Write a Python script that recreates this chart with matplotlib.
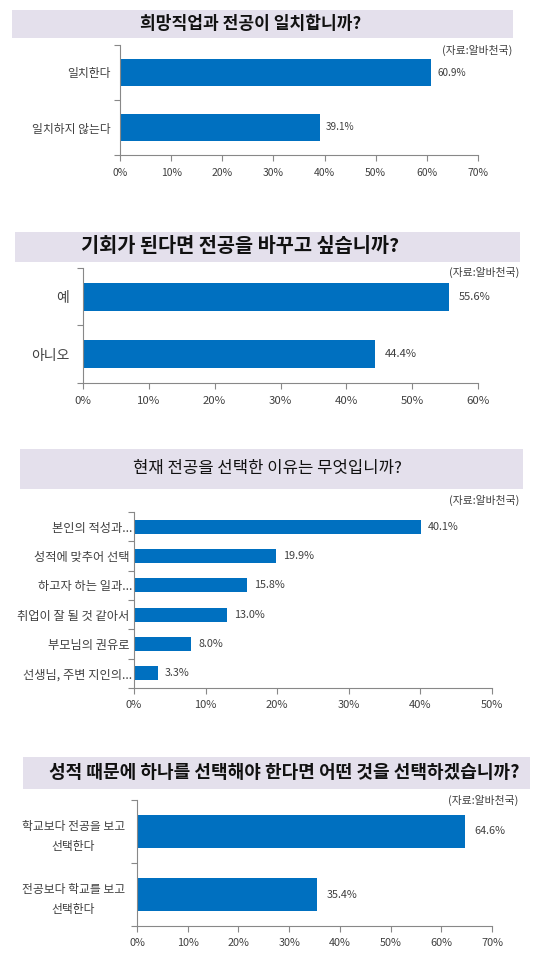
import numpy as np
import matplotlib
matplotlib.use("Agg")
import matplotlib.pyplot as plt
from matplotlib.patches import Rectangle

plt.rcParams['font.family'] = ['Noto Sans CJK KR', 'DejaVu Sans']

W, H = 539, 967

# 데이터
titulos = ['희망직업과 전공이 일치합니까?',
           '기회가 된다면 전공을 바꾸고 싶습니까?',
           '현재 전공을 선택한 이유는 무엇입니까?',
           '성적 때문에 하나를 선택해야 한다면 어떤 것을 선택하겠습니까?']

cats1 = ['일치한다', '일치하지 않는다']
vals1 = [60.9, 39.1]

cats2 = ['예', '아니오']
vals2 = [55.6, 44.4]

cats3 = ['본인의 적성과...', '성적에 맞추어 선택 ', '하고자 하는 일과...',
         '취업이 잘 될 것 같아서 ', '부모님의 권유로 ', '선생님, 주변 지인의...']
vals3 = [40.1, 19.9, 15.8, 13.0, 8.0, 3.3]

cats4 = ['학교보다 전공을 보고\n선택한다', '전공보다 학교를 보고\n선택한다']
vals4 = [64.6, 35.4]

fuente = '(자료:알바천국)'

BAR = '#0070C0'
BANNER = '#E4E0EC'
TXT = '#404040'

fig = plt.figure(figsize=(W / 100, H / 100), dpi=100)


def px_axes(x0, y0, x1, y1):
    return fig.add_axes([x0 / W, 1 - y1 / H, (x1 - x0) / W, (y1 - y0) / H])


def banner(x0, y0, x1, y1, texto, cx, size, weight):
    fig.patches.append(Rectangle((x0 / W, 1 - y1 / H), (x1 - x0) / W, (y1 - y0) / H,
                                 transform=fig.transFigure, facecolor=BANNER,
                                 edgecolor='none', zorder=0))
    fig.text(cx / W, 1 - (y0 + y1) / 2 / H, texto, ha='center', va='center',
             fontsize=size, fontweight=weight, color='#111111')


def barras(box, cats, vals, xmax, alto, lab_size=8.5, pad=6, val_size=7.5,
           val_off=6, tick_size=7.5, linesp=1.2):
    ax = px_axes(*box)
    n = len(cats)
    y = np.arange(n)
    ax.barh(y, vals, height=alto, color=BAR, zorder=2)
    ax.set_xlim(0, xmax)
    ax.set_ylim(n - 0.5, -0.5)
    ax.set_xticks(np.arange(0, xmax + 1, 10))
    ax.set_xticklabels([f'{t}%' for t in range(0, xmax + 1, 10)])
    ax.set_yticks(np.arange(-0.5, n, 1))
    ax.set_yticklabels([])
    ax.set_yticks(y, minor=True)
    ax.set_yticklabels(cats, minor=True, fontsize=lab_size, color=TXT,
                       multialignment='center', linespacing=linesp)
    ax.tick_params(axis='y', which='minor', length=0, pad=pad)
    ax.tick_params(axis='y', which='major', length=4, color='#888888')
    ax.tick_params(axis='x', length=4, color='#888888', labelsize=tick_size,
                   labelcolor=TXT, pad=5)
    for s in ['top', 'right']:
        ax.spines[s].set_visible(False)
    ax.spines['left'].set_color('#888888')
    ax.spines['bottom'].set_color('#888888')
    for yi, v in zip(y, vals):
        ax.annotate(f'{v:.1f}%', (v, yi), xytext=(val_off, 0), textcoords='offset points',
                    va='center', ha='left', fontsize=val_size, color=TXT)
    ax.patch.set_alpha(0)
    return ax


def nota(x, y):
    fig.text(x / W, 1 - y / H, fuente, ha='right', va='center', fontsize=7.8, color=TXT)


# Panel 1
banner(12, 10, 513, 38, titulos[0], 251, 12.3, 'bold')
barras((120, 45, 478, 155), cats1, vals1, 70, 0.5, lab_size=8.5, pad=7,
       val_size=7.2, val_off=4)
nota(512, 50)

# Panel 2
banner(15, 232, 520, 262, titulos[1], 240, 14.2, 'bold')
barras((83, 268, 478, 383), cats2, vals2, 60, 0.49, lab_size=10, pad=10,
       val_size=8, val_off=7, tick_size=8.2)
nota(519, 272)

# Panel 3
banner(20, 449, 523, 489, titulos[2], 267, 12, 'normal')
barras((134, 512, 492, 688), cats3, vals3, 50, 0.48, lab_size=8.8, pad=1.5,
       val_size=7.8, val_off=5, tick_size=8)
nota(519, 500)

# Panel 4
banner(23, 757, 530, 789, titulos[3], 284, 13, 'bold')
barras((137, 800, 492, 926), cats4, vals4, 70, 0.52, lab_size=8.5, pad=8.5,
       val_size=7.8, val_off=7, tick_size=7.8, linesp=1.7)
nota(518, 800)

fig.savefig('out.png', dpi=100)
